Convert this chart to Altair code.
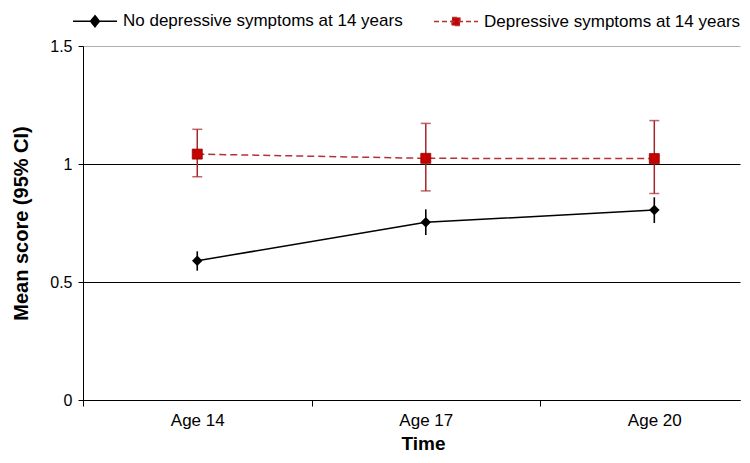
import altair as alt
import pandas as pd

categories = ["Age 14", "Age 17", "Age 20"]
series_names = ["No depressive symptoms at 14 years", "Depressive symptoms at 14 years"]

no_dep_mean = [0.59, 0.753, 0.805]
no_dep_lower = [0.548, 0.699, 0.750]
no_dep_upper = [0.630, 0.808, 0.859]

dep_mean = [1.042, 1.024, 1.023]
dep_lower = [0.946, 0.886, 0.875]
dep_upper = [1.147, 1.172, 1.184]

rows = []
for i, c in enumerate(categories):
    rows.append({"series": series_names[0], "xi": i, "cat": c,
                 "mean": no_dep_mean[i], "lower": no_dep_lower[i], "upper": no_dep_upper[i]})
    rows.append({"series": series_names[1], "xi": i, "cat": c,
                 "mean": dep_mean[i], "lower": dep_lower[i], "upper": dep_upper[i]})
df = pd.DataFrame(rows)

FONT = "Liberation Sans"
RED_LINE = "#b3323a"
RED_FILL = "#c40000"
RED_BAR = "#a8242c"

label_expr = " : ".join(
    [f"datum.value === {i} ? '{c}'" for i, c in enumerate(categories)]
) + " : ''"

x_enc = alt.X(
    "xi:Q",
    scale=alt.Scale(domain=[-0.5, 2.375], nice=False, zero=False),
    axis=alt.Axis(
        values=[-0.5, 0, 0.5, 1, 1.5, 2],
        labelExpr=label_expr,
        title="Time",
        titleFont=FONT, titleFontSize=19, titleFontWeight="bold", titleColor="black",
        titleX=340, titlePadding=6,
        labelFont=FONT, labelFontSize=17, labelColor="black", labelPadding=6,
        tickSize=6, tickWidth=1,
        tickColor={"condition": {"test": "datum.value % 1 === 0", "value": "transparent"}, "value": "black"},
        domainColor="black", domainWidth=1, grid=False, labelFlush=False,
    ),
)
y_enc = alt.Y(
    "mean:Q",
    scale=alt.Scale(domain=[0, 1.5], nice=False),
    axis=alt.Axis(
        values=[0, 0.5, 1, 1.5],
        labelExpr="datum.value === 0 ? '0' : datum.value === 1 ? '1' : format(datum.value, '.1f')",
        title="Mean score (95% CI)",
        titleFont=FONT, titleFontSize=20, titleFontWeight="bold", titleColor="black",
        titlePadding=18,
        labelFont=FONT, labelFontSize=16, labelColor="black", labelPadding=6,
        tickSize=5, tickColor="black", domainColor="black", domainWidth=1,
        grid=True, gridWidth=1,
        gridColor={"condition": {"test": "datum.value === 1.5", "value": "#b0b0b0"}, "value": "black"},
        labelFlush=False,
    ),
)

base = alt.Chart(df)
no_dep = base.transform_filter(alt.datum.series == series_names[0])
dep = base.transform_filter(alt.datum.series == series_names[1])

dep_err = dep.mark_errorbar(
    ticks={"size": 10, "color": RED_BAR, "strokeWidth": 1.5},
    color=RED_BAR, thickness=1.5,
).encode(x=x_enc, y=alt.Y("lower:Q", scale=alt.Scale(domain=[0, 1.5], nice=False), title=""), y2="upper:Q")
dep_line = dep.mark_line(color=RED_LINE, strokeWidth=1.5, strokeDash=[7, 4]).encode(x=x_enc, y=y_enc)
dep_pts = dep.mark_point(shape="square", filled=True, size=100, color=RED_FILL, opacity=1,
                         stroke="#9a0000", strokeWidth=0.8).encode(x=x_enc, y=y_enc)

no_err = no_dep.mark_rule(color="black", strokeWidth=1.6).encode(
    x=x_enc, y=alt.Y("lower:Q"), y2="upper:Q")
no_line = no_dep.mark_line(color="black", strokeWidth=1.5).encode(x=x_enc, y=y_enc)
no_pts = no_dep.mark_point(shape="diamond", filled=True, size=110, color="black", opacity=1).encode(x=x_enc, y=y_enc)

legend_paths = [
    "M-1,0H1M0,-0.25L0.2,0L0,0.25L-0.2,0Z",
    "M-1,0H1M-0.18,-0.18H0.18V0.18H-0.18Z",
]
leg = alt.Legend(
    title=None, orient="none", legendX=-11, legendY=-48, direction="horizontal",
    labelFont=FONT, labelFontSize=17, labelColor="black", labelOffset=5, labelLimit=0,
    columnPadding=28, symbolSize=1936, symbolStrokeWidth=1.5, padding=0,
)
legend_layer = base.transform_filter("false").mark_point(filled=True, size=1936, opacity=1).encode(
    shape=alt.Shape("series:N", scale=alt.Scale(domain=series_names, range=legend_paths), legend=leg, sort=series_names),
    fill=alt.Fill("series:N", scale=alt.Scale(domain=series_names, range=["black", RED_FILL]), legend=leg, sort=series_names),
    stroke=alt.Stroke("series:N", scale=alt.Scale(domain=series_names, range=["black", RED_LINE]), legend=leg, sort=series_names),
    strokeDash=alt.StrokeDash("series:N", scale=alt.Scale(domain=series_names, range=[[1, 0], [5, 3]]), legend=leg, sort=series_names),
)

chart = alt.layer(
    dep_err, dep_line, no_err, no_line, no_pts, dep_pts, legend_layer
).properties(
    width=657, height=354,
    autosize=alt.AutoSizeParams(type="none"),
    padding={"left": 75, "top": 38, "right": 2, "bottom": 55},
    background="white",
).configure_view(stroke=None)

chart.save("out.html", embed_options={"renderer": "svg", "actions": False})
